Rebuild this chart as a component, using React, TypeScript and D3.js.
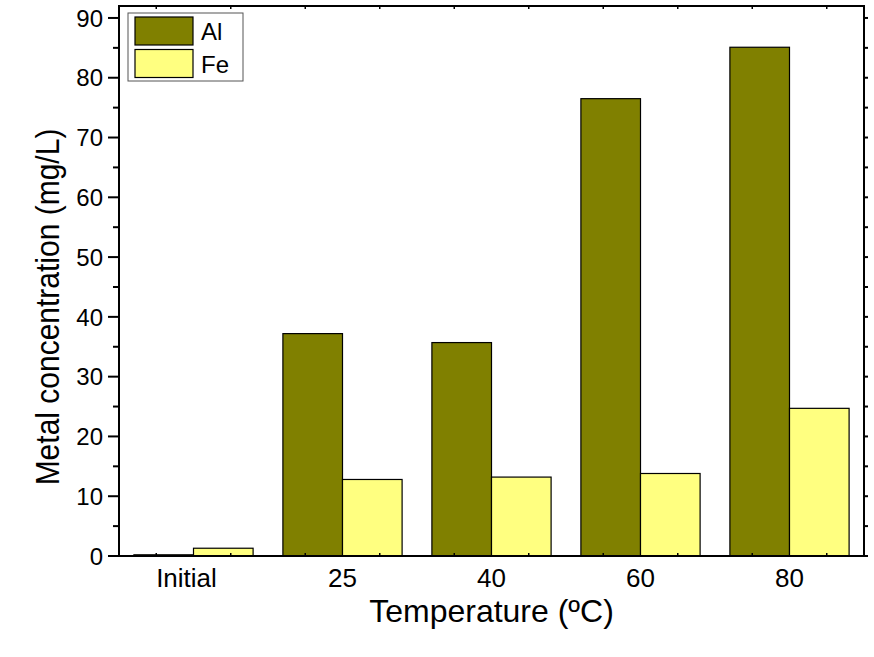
import React from "react";
import * as d3 from "d3";

const categories = ["Initial", "25", "40", "60", "80"];
const alValues = [0.2, 37.2, 35.7, 76.5, 85.1];
const feValues = [1.3, 12.8, 13.2, 13.8, 24.7];
const seriesNames = ["Al", "Fe"];
const seriesColors = ["#808000", "#FFFF80"];
const yTicks = [0, 10, 20, 30, 40, 50, 60, 70, 80, 90];

const width = 874;
const height = 657;
const margin = { top: 6, right: 10, bottom: 101, left: 119 };
const font = "Arial, 'Liberation Sans', sans-serif";

export default function App() {
  const plotW = width - margin.left - margin.right;
  const plotH = height - margin.top - margin.bottom;

  const x = d3
    .scaleBand()
    .domain(categories)
    .range([0, plotW])
    .paddingInner(0.2)
    .paddingOuter(0.1);
  const xSub = d3
    .scaleBand()
    .domain(seriesNames)
    .range([0, x.bandwidth()]);
  const y = d3.scaleLinear().domain([0, 92]).range([plotH, 0]);

  const minorTicks = d3.range(0, 92, 5);
  const series = [alValues, feValues];
  // half-step positions for the top / bottom minor ticks
  const step = x.step();
  const xMinor = d3.range(0, categories.length * 2 + 1).map((i) => (step * (i - 0.5)) / 2 + step / 2);

  return (
    <svg width={width} height={height} style={{ display: "block", position: "absolute", left: 0, top: 0 }}>
      <rect width={width} height={height} fill="#fff" />
      <g transform={`translate(${margin.left},${margin.top})`}>
        {series.map((vals, si) =>
          categories.map((c, ci) => (
            <rect
              key={`${si}-${ci}`}
              x={(x(c) ?? 0) + (xSub(seriesNames[si]) ?? 0)}
              y={y(vals[ci])}
              width={xSub.bandwidth()}
              height={plotH - y(vals[ci])}
              fill={seriesColors[si]}
              stroke="#000"
              strokeWidth={1.2}
            />
          ))
        )}

        {/* frame */}
        <rect x={0} y={0} width={plotW} height={plotH} fill="none" stroke="#000" strokeWidth={2} />

        {/* left axis */}
        {minorTicks.map((t) => (
          <line key={`l${t}`} x1={t % 10 === 0 ? -11 : -6} x2={0} y1={y(t)} y2={y(t)} stroke="#000" strokeWidth={2} />
        ))}
        {yTicks.map((t) => (
          <text
            key={`yl${t}`}
            x={-16}
            y={y(t)}
            dy="0.36em"
            textAnchor="end"
            fontFamily={font}
            fontSize={24}
            fill="#000"
          >
            {t}
          </text>
        ))}

        {/* right axis */}
        {minorTicks.map((t) => (
          <line key={`r${t}`} x1={plotW} x2={plotW + 4} y1={y(t)} y2={y(t)} stroke="#000" strokeWidth={2} />
        ))}

        {/* top and bottom minor ticks */}
        {xMinor.map((p, i) => (
          <g key={`xm${i}`}>
            <line x1={p} x2={p} y1={0} y2={3} stroke="#000" strokeWidth={1.5} />
            <line x1={p} x2={p} y1={plotH} y2={plotH - 3} stroke="#000" strokeWidth={1.5} />
          </g>
        ))}

        {categories.map((c, i) => (
          <text
            key={`xl${c}`}
            x={(x(c) ?? 0) + x.bandwidth() / 2 - (i === 0 ? 7 : 0)}
            y={plotH + 31}
            textAnchor="middle"
            fontFamily={font}
            fontSize={26}
            fill="#000"
          >
            {c}
          </text>
        ))}

        {/* legend */}
        <g transform="translate(9,7)">
          <rect x={0} y={0} width={115} height={68} fill="#fff" stroke="#555" strokeWidth={1} />
          {seriesNames.map((s, i) => (
            <g key={s} transform={`translate(7,${4 + i * 32.5})`}>
              <rect width={58} height={28} fill={seriesColors[i]} stroke="#000" strokeWidth={1.2} />
              <text x={66} y={23} fontFamily={font} fontSize={24} fill="#000">
                {s}
              </text>
            </g>
          ))}
        </g>
      </g>

      <text
        transform={`translate(59,307) rotate(-90) scale(1,1.12)`}
        textAnchor="middle"
        fontFamily={font}
        fontSize={30}
        fill="#000"
      >
        Metal concentration (mg/L)
      </text>
      <text
        x={margin.left + plotW / 2}
        y={622}
        textAnchor="middle"
        fontFamily={font}
        fontSize={32}
        fill="#000"
      >
        Temperature (ºC)
      </text>
    </svg>
  );
}
